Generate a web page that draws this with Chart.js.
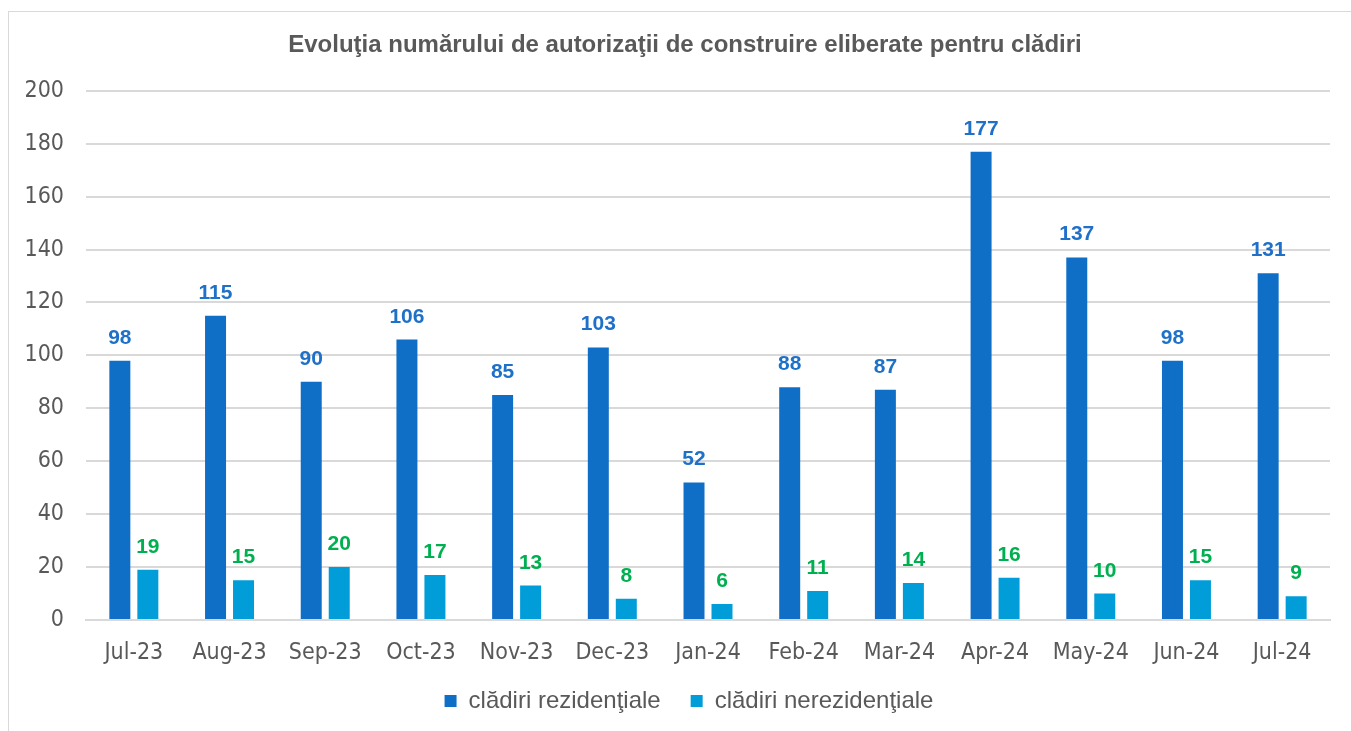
<!DOCTYPE html>
<html>
<head>
<meta charset="utf-8">
<script src="https://cdn.jsdelivr.net/npm/chart.js@4.4.0/dist/chart.umd.min.js"></script>
<style>
    html, body { margin: 0; padding: 0; background: #ffffff; }
    #wrap { position: relative; width: 1351px; height: 731px; overflow: hidden; }
    #frame { position: absolute; left: 8px; top: 11px; width: 1400px; height: 800px; border: 1px solid #d9d9d9; }
    #chart { position: absolute; left: 0; top: 0; }
</style>
</head>
<body>
<div id="wrap">
    <div id="frame"></div>
    <canvas id="chart" width="1351" height="731"></canvas>
</div>
<script>
var months = ['Jul-23', 'Aug-23', 'Sep-23', 'Oct-23', 'Nov-23', 'Dec-23', 'Jan-24', 'Feb-24', 'Mar-24', 'Apr-24', 'May-24', 'Jun-24', 'Jul-24'];
var rezidentiale = [98, 115, 90, 106, 85, 103, 52, 88, 87, 177, 137, 98, 131];
var nerezidentiale = [19, 15, 20, 17, 13, 8, 6, 11, 14, 16, 10, 15, 9];
var yTicks = [0, 20, 40, 60, 80, 100, 120, 140, 160, 180, 200];

var labelColors = ['#1f70c8', '#00b050'];
var tickFont = { family: '"DejaVu Sans Condensed", "DejaVu Sans", sans-serif', size: 23 };

// draws the value above each bar
var valueLabels = {
    id: 'valueLabels',
    afterDatasetsDraw: function (chart) {
        var ctx = chart.ctx;
        ctx.save();
        ctx.font = 'bold 21px "Liberation Sans", Arial, sans-serif';
        ctx.textAlign = 'center';
        ctx.textBaseline = 'alphabetic';
        chart.data.datasets.forEach(function (ds, i) {
            var meta = chart.getDatasetMeta(i);
            ctx.fillStyle = labelColors[i];
            meta.data.forEach(function (bar, j) {
                ctx.fillText(ds.data[j], bar.x, bar.y - 17);
            });
        });
        ctx.restore();
    }
};

// nudge title and legend to where the original sits
var nudge = {
    id: 'nudge',
    afterLayout: function (chart) {
        var t = chart.titleBlock;
        t.left += 20; t.right += 20;
        var l = chart.legend;
        l.left += 24; l.right += 24;
        l.top -= 8; l.bottom -= 8;
    }
};

new Chart(document.getElementById('chart'), {
    type: 'bar',
    data: {
        labels: months,
        datasets: [{
            label: 'clădiri rezidenţiale',
            data: rezidentiale,
            backgroundColor: '#0f6fc6',
            categoryPercentage: 0.585,
            barPercentage: 0.75
        }, {
            label: 'clădiri nerezidenţiale',
            data: nerezidentiale,
            backgroundColor: '#009dd9',
            categoryPercentage: 0.585,
            barPercentage: 0.75
        }]
    },
    options: {
        responsive: false,
        animation: false,
        layout: { padding: { top: 0, right: 21, bottom: 0, left: 0 } },
        plugins: {
            title: {
                display: true,
                text: 'Evoluţia numărului de autorizaţii de construire eliberate pentru clădiri',
                color: '#595959',
                font: { family: '"Liberation Sans", Arial, sans-serif', size: 24, weight: 'bold' },
                padding: { top: 31, bottom: 31 }
            },
            legend: {
                position: 'bottom',
                labels: {
                    color: '#595959',
                    font: { family: '"Liberation Sans", Arial, sans-serif', size: 24 },
                    boxWidth: 12,
                    boxHeight: 12,
                    padding: 30
                }
            },
            tooltip: { enabled: false }
        },
        scales: {
            x: {
                grid: { display: false },
                border: { color: '#d9d9d9', width: 2 },
                ticks: {
                    color: '#595959',
                    font: tickFont,
                    padding: 11,
                    maxRotation: 0
                },
                afterFit: function (scale) { scale.height = 47; }
            },
            y: {
                min: 0,
                max: 200,
                afterBuildTicks: function (scale) {
                    scale.ticks = yTicks.map(function (v) { return { value: v }; });
                },
                grid: { color: '#d9d9d9', lineWidth: 2, drawTicks: false },
                border: { display: false },
                ticks: {
                    color: '#595959',
                    font: tickFont,
                    padding: 22
                },
                afterFit: function (scale) { scale.width = 86; }
            }
        }
    },
    plugins: [valueLabels, nudge]
});
</script>
</body>
</html>
